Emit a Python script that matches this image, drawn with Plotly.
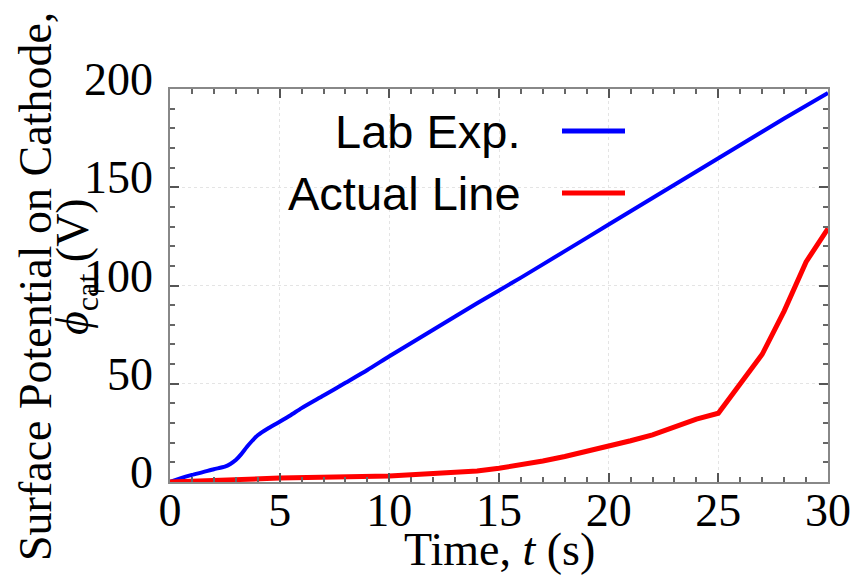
import plotly.graph_objects as go

# ---- data ----
lab_t = [0, 0.5, 1, 1.5, 2, 2.5, 2.75, 3, 3.25, 3.5, 3.75, 4, 4.5, 5, 5.5, 6, 7, 8, 9, 10,
         12, 14, 16, 18, 20, 22, 24, 26, 28, 30]
lab_v = [0, 2, 3.6, 5, 6.5, 7.8, 9.2, 11.2, 14.2, 17.8, 21, 23.8, 27.5, 30.7, 34, 37.6, 44, 50.5, 57, 64,
         77.5, 91, 104, 117.5, 131, 144.5, 158, 171.5, 185, 198]

act_t = [0, 5, 10, 12, 13, 14, 15, 16, 17, 18, 19, 20, 21, 22, 23, 24, 25, 26, 27, 28, 29, 30]
act_v = [0, 2, 3, 4, 4.7, 5.6, 7, 8.6, 10.7, 13, 15.5, 18, 21, 24, 28, 32, 35, 49.5, 65, 87, 112, 129]

series_names = ["Lab Exp.", "Actual Line"]
series_colors = ["#0000FF", "#FF0000"]

x_title = "Time, <i>t</i> (s)"
y_title_1 = "Surface Potential on Cathode,"
y_title_2 = "<i>ϕ</i><sub>cat</sub> (V)"

SERIF = "Liberation Serif, Times New Roman, serif"
SANS = "Liberation Sans, Arial, sans-serif"

W, H = 854, 575
L, R, T, B = 170, 26, 89, 93
pw, ph = W - L - R, H - T - B

def px_x(px):
    return (px - L) / pw

def px_y(py):
    return (H - B - py) / ph

fig = go.Figure()
fig.add_trace(go.Scatter(x=lab_t, y=lab_v, mode="lines", name=series_names[0],
                         line=dict(color=series_colors[0], width=4, shape="spline", smoothing=0.6)))
fig.add_trace(go.Scatter(x=act_t, y=act_v, mode="lines", name=series_names[1],
                         line=dict(color=series_colors[1], width=5)))

axis_common = dict(
    showline=True, linecolor="#888888", linewidth=1.5, mirror="allticks",
    ticks="inside", ticklen=9, tickwidth=1.5, tickcolor="#555555",
    showgrid=True, gridcolor="#e4e4e4", gridwidth=1, griddash="dot",
    zeroline=False, automargin=False,
    tickfont=dict(family=SERIF, size=46, color="black"),
)

fig.update_xaxes(range=[0, 30], dtick=5, tick0=0,
                 minor=dict(dtick=1, ticks="inside", ticklen=5, tickcolor="#666666", showgrid=False),
                 ticklabelstandoff=-13,
                 **axis_common)
fig.update_yaxes(range=[0, 200], dtick=50, tick0=0,
                 minor=dict(dtick=10, ticks="inside", ticklen=5, tickcolor="#666666", showgrid=False),
                 ticklabelshift=-10, ticklabelstandoff=6,
                 **axis_common)

# legend background box (hides gridlines behind legend)
fig.add_shape(type="rect", xref="paper", yref="paper",
              x0=0, x1=px_x(645), y0=px_y(226), y1=1,
              fillcolor="white", line=dict(width=0), layer="between")

annotations = []
# legend entries
leg_rows = [131, 193]
for name, color, py in zip(series_names, series_colors, leg_rows):
    annotations.append(dict(text=name, xref="paper", yref="paper", x=px_x(523), y=px_y(py),
                            xanchor="right", yanchor="middle", showarrow=False,
                            font=dict(family=SANS, size=47, color="black")))
    fig.add_shape(type="line", xref="paper", yref="paper",
                  x0=px_x(562), x1=px_x(625), y0=px_y(py), y1=px_y(py),
                  line=dict(color=color, width=5), layer="above")

# axis titles
annotations.append(dict(text=x_title, xref="paper", yref="paper", x=0.5, y=px_y(549),
                        xanchor="center", yanchor="middle", showarrow=False,
                        font=dict(family=SERIF, size=46, color="black")))
annotations.append(dict(text=y_title_1, xref="paper", yref="paper", x=px_x(35), y=px_y(287),
                        xanchor="center", yanchor="middle", showarrow=False, textangle=-90,
                        font=dict(family=SERIF, size=46, color="black")))
annotations.append(dict(text=y_title_2, xref="paper", yref="paper", x=px_x(76), y=px_y(267),
                        xanchor="center", yanchor="middle", showarrow=False, textangle=-90,
                        font=dict(family=SERIF, size=46, color="black")))

fig.update_layout(
    width=W, height=H,
    margin=dict(l=L, r=R, t=T, b=B, pad=0, autoexpand=False),
    paper_bgcolor="white", plot_bgcolor="white",
    showlegend=False,
    annotations=annotations,
)

fig.write_html("out.html")
